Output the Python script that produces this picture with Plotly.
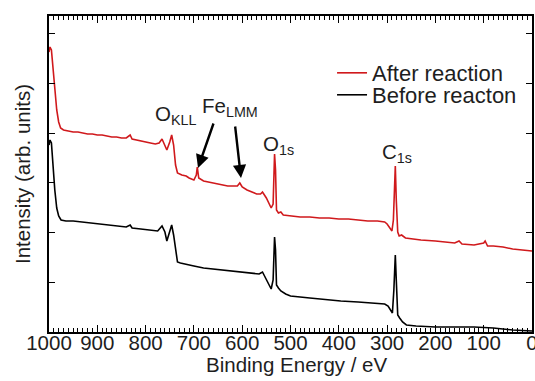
import plotly.graph_objects as go

# Binding energy (eV) and intensity (arb. units)
after_be = [1000, 998, 995, 992, 988, 984, 980, 976, 970, 960, 950, 940, 930, 920, 910, 900,
            890, 880, 870, 860, 850, 840, 835, 832, 828, 820, 810, 800, 790, 780, 772, 766,
            760, 756, 750, 746, 742, 738, 734, 725, 716, 710, 700, 695, 693, 690, 680, 670,
            660, 650, 640, 630, 620, 610, 605, 600, 590, 580, 570, 562, 558, 550, 545, 540,
            536, 533, 531, 529, 525, 520, 515, 500, 480, 460, 440, 420, 400, 380, 360, 340,
            320, 305, 300, 295, 290, 287, 285, 283, 281, 278, 275, 270, 262, 250, 230, 200,
            180, 160, 151, 145, 120, 100, 97, 92, 80, 60, 40, 20, 0]
after_int = [280, 285, 282, 267, 242, 222, 210, 204, 202, 201, 200, 200, 199, 198, 198, 197,
             197, 196, 195, 195, 194, 194, 196, 197, 193, 192, 191, 190, 189, 188, 189, 193,
             187, 182, 190, 197, 187, 167, 159, 157, 156, 154, 152, 157, 165, 154, 151, 150,
             149, 148, 147, 146, 146, 146, 149, 145, 142, 140, 138, 138, 140, 134, 129, 124,
             128, 178, 162, 122, 119, 120, 117, 116, 115, 115, 114, 114, 113, 113, 112, 111,
             111, 110, 108, 104, 101, 112, 152, 166, 132, 100, 96, 97, 94, 93, 92, 91,
             90, 89, 91, 88, 87, 89, 91, 86, 86, 85, 83, 82, 81]

before_be = [1000, 998, 995, 992, 988, 984, 980, 975, 965, 950, 930, 910, 900, 880, 860, 840,
             832, 828, 810, 790, 775, 766, 760, 756, 750, 746, 742, 738, 734, 728, 716, 700,
             680, 660, 640, 620, 600, 580, 565, 558, 550, 543, 540, 536, 533, 531, 529, 525,
             520, 510, 500, 460, 420, 396, 360, 320, 305, 298, 292, 289, 286, 283, 281, 278,
             274, 268, 260, 240, 200, 160, 120, 80, 40, 0]
before_int = [187, 192, 189, 167, 142, 124, 116, 112, 111, 111, 110, 109, 108, 107, 106, 105,
              107, 104, 103, 102, 101, 106, 100, 91, 100, 107, 97, 82, 70, 69, 68, 66,
              64, 63, 62, 61, 60, 59, 58, 60, 52, 46, 43, 52, 95, 82, 47, 44,
              41, 38, 36, 34, 32, 31, 30, 29, 28, 26, 22, 19, 42, 77, 52, 17,
              14, 10, 7, 6, 5, 5, 5, 4, 2, 1]

series_names = ["After reaction", "Before reacton"]
x_title = "Binding Energy / eV"
y_title = "Intensity (arb. units)"
peak_labels = ["O<sub>KLL</sub>", "Fe<sub>LMM</sub>", "O<sub>1s</sub>", "C<sub>1s</sub>"]
peak_label_be = [739, 625, 524, 279]
peak_label_int = [217, 225, 187, 179]
fe_arrow_be = [691.5, 602.5]
fe_arrow_int = [164, 154]

RED = "#d0191c"
TXT = "#1e1e1e"
FONT = "Liberation Sans, Arial, sans-serif"
FS = 20.5
LFS = 22

fig = go.Figure()
fig.add_trace(go.Scatter(x=after_be, y=after_int, mode="lines", name=series_names[0],
                         line=dict(color=RED, width=1.6), legend="legend"))
fig.add_trace(go.Scatter(x=before_be, y=before_int, mode="lines", name=series_names[1],
                         line=dict(color="black", width=1.6), legend="legend2"))
# invisible carrier trace for the overlaid minor-tick axis
fig.add_trace(go.Scatter(x=before_be, y=before_int, mode="lines", xaxis="x2",
                         line=dict(color="rgba(0,0,0,0)", width=0), showlegend=False,
                         hoverinfo="skip"))

for txt, xb, yi in zip(peak_labels, peak_label_be, peak_label_int):
    fig.add_annotation(x=xb, y=yi, text=txt, showarrow=False,
                       font=dict(family=FONT, size=FS, color=TXT))

for xb, yi, ax, ay in zip(fe_arrow_be, fe_arrow_int, [16, -6], [-46, -53]):
    fig.add_annotation(x=xb, y=yi, text="", showarrow=True, ax=ax, ay=ay,
                       arrowhead=2, arrowsize=1.1, arrowwidth=2.4, arrowcolor="black",
                       standoff=0)

# axis titles
fig.add_annotation(xref="paper", yref="paper", x=0.5, y=0, yshift=-32, xshift=6,
                   text=x_title, showarrow=False, yanchor="middle",
                   font=dict(family=FONT, size=FS, color=TXT))
fig.add_annotation(xref="paper", yref="paper", x=0, y=0.5, xshift=-27,
                   text=y_title, showarrow=False, textangle=-90, xanchor="center",
                   font=dict(family=FONT, size=FS, color=TXT))

leg_common = dict(xanchor="left", yanchor="top", bgcolor="rgba(0,0,0,0)",
                  font=dict(family=FONT, size=LFS, color=TXT))

fig.update_layout(
    width=535, height=381,
    margin=dict(l=49, r=3, t=16, b=49, autoexpand=False),
    paper_bgcolor="white", plot_bgcolor="white",
    font=dict(family=FONT, size=FS, color=TXT),
    showlegend=True,
    legend=dict(x=0.586, y=0.886, **leg_common),
    legend2=dict(x=0.586, y=0.8165, **leg_common),
    xaxis=dict(range=[1000, 0], tickmode="linear", tick0=0, dtick=100,
               automargin=False, ticklabeloverflow="allow", ticklabelstandoff=-8,
               showgrid=False, zeroline=False, showline=True, linecolor="black",
               linewidth=1.5, mirror="ticks", ticks="inside", ticklen=7, tickwidth=1.2,
               tickcolor="black",
               tickfont=dict(size=FS, color=TXT)),
    xaxis2=dict(range=[1000, 0], overlaying="x", anchor="y", side="bottom",
                tickmode="linear", tick0=0, dtick=10, showticklabels=False,
                automargin=False, showgrid=False, zeroline=False,
                showline=True, linecolor="black", linewidth=1.5, mirror="ticks",
                ticks="inside", ticklen=4, tickwidth=1, tickcolor="black"),
    yaxis=dict(range=[0, 316], tick0=0, dtick=49.7, showticklabels=False,
               automargin=False,
               showgrid=False, zeroline=False, showline=True, linecolor="black",
               linewidth=1.5, mirror="ticks", ticks="inside", ticklen=6, tickwidth=1.2,
               tickcolor="black"),
)

fig.write_html("out.html", config={"displayModeBar": False},
               post_script="document.body.style.margin='0';document.body.style.overflow='hidden';")
